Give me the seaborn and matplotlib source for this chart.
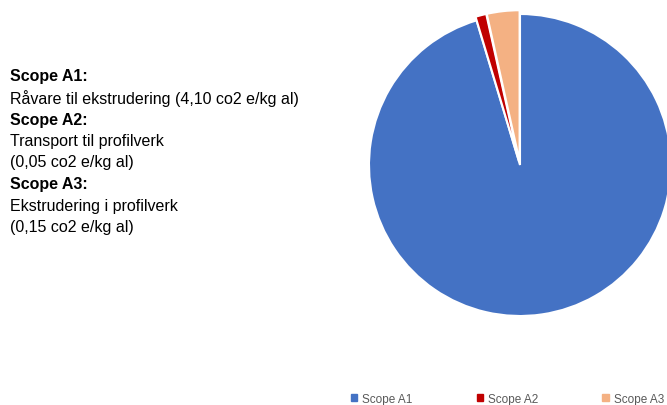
import matplotlib.pyplot as plt
import seaborn as sns
from matplotlib.patches import Patch

labels = ["Scope A1", "Scope A2", "Scope A3"]
values = [4.10, 0.05, 0.15]
colors = ["#4472C4", "#C00000", "#F4B183"]
explode = [0.0, 0.025, 0.025]

note_lines = [
    ("Scope A1:", True),
    ("Råvare til ekstrudering (4,10 co2 e/kg al)", False),
    ("Scope A2:", True),
    ("Transport til profilverk", False),
    ("(0,05 co2 e/kg al)", False),
    ("Scope A3:", True),
    ("Ekstrudering i profilverk", False),
    ("(0,15 co2 e/kg al)", False),
]

sns.set_theme(style="white")
plt.rcParams["font.family"] = ["Liberation Sans", "DejaVu Sans"]

fig = plt.figure(figsize=(6.67, 4.06), dpi=100)
fig.patch.set_facecolor("white")

# pie axes: centre ~ (520, 166) px, radius ~151 px
W, H = 667, 406
r = 151
cx, cy = 520, 166
ax = fig.add_axes([(cx - r) / W, (H - cy - r) / H, 2 * r / W, 2 * r / H])
ax.pie(
    values,
    colors=colors,
    startangle=90,
    counterclock=False,
    explode=explode,
    wedgeprops={"edgecolor": "white", "linewidth": 1.5},
)
ax.set_xlim(-1, 1)
ax.set_ylim(-1, 1)
ax.set_aspect("equal")
ax.axis("off")

y0 = 77
step = 21.5
for i, (txt, bold) in enumerate(note_lines):
    fig.text(
        10 / W,
        1 - (y0 + i * step) / H,
        txt,
        fontsize=11.5,
        fontweight="bold" if bold else "normal",
        color="black",
        va="center",
        ha="left",
    )

handles = [Patch(facecolor=c, edgecolor=c) for c in colors]
fig.legend(
    handles,
    labels,
    loc="center left",
    bbox_to_anchor=(340 / W, 1 - 400 / H),
    ncol=3,
    frameon=False,
    fontsize=8.5,
    handlelength=0.55,
    handleheight=0.55,
    handletextpad=0.4,
    columnspacing=5.45,
    labelcolor="#595959",
)

fig.savefig("out.png", dpi=100, facecolor="white")
